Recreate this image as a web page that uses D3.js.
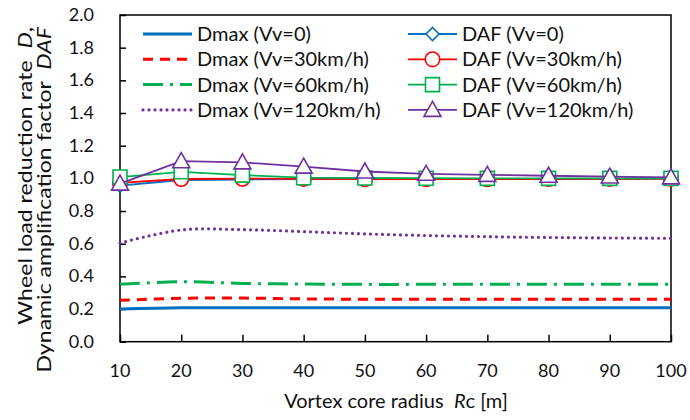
<!DOCTYPE html>
<html>
<head>
<meta charset="utf-8">
<script src="https://cdn.jsdelivr.net/npm/d3@7"></script>
<style>
  html, body { margin: 0; padding: 0; background: #fff; }
  svg text { font-family: Lato, "Open Sans", sans-serif; fill: #111; white-space: pre; }
</style>
</head>
<body>
<svg id="chart" width="690" height="420"></svg>
<script>
// Vortex core radius Rc [m]
const radius = [10, 20, 30, 40, 50, 60, 70, 80, 90, 100];

// Wheel load reduction rate D (maximum) for each vehicle speed
const dmaxV0   = [0.200, 0.208, 0.208, 0.208, 0.208, 0.208, 0.208, 0.208, 0.208, 0.208];
const dmaxV30  = [0.253, 0.266, 0.267, 0.262, 0.260, 0.260, 0.260, 0.260, 0.260, 0.260];
const dmaxV60  = [0.351, 0.367, 0.357, 0.353, 0.351, 0.351, 0.351, 0.351, 0.351, 0.351];
const dmaxV120 = [0.604, 0.684, 0.686, 0.674, 0.660, 0.650, 0.643, 0.638, 0.635, 0.633];

// Dynamic amplification factor DAF for each vehicle speed
const dafV0    = [0.955, 0.990, 0.993, 0.995, 0.995, 0.995, 0.995, 0.996, 0.997, 0.998];
const dafV30   = [0.972, 0.996, 0.998, 0.997, 0.995, 0.995, 0.995, 0.996, 0.997, 0.998];
const dafV60   = [1.008, 1.040, 1.020, 1.004, 1.002, 1.001, 1.000, 1.000, 1.000, 1.000];
const dafV120  = [0.968, 1.105, 1.098, 1.072, 1.042, 1.028, 1.021, 1.016, 1.011, 1.006];

// Axis ticks
const xTicks = [10, 20, 30, 40, 50, 60, 70, 80, 90, 100];
const yTicks = [0.0, 0.2, 0.4, 0.6, 0.8, 1.0, 1.2, 1.4, 1.6, 1.8, 2.0];

const labels = {
  dmaxV0: "Dmax (Vv=0)", dmaxV30: "Dmax (Vv=30km/h)", dmaxV60: "Dmax (Vv=60km/h)", dmaxV120: "Dmax (Vv=120km/h)",
  dafV0: "DAF (Vv=0)", dafV30: "DAF (Vv=30km/h)", dafV60: "DAF (Vv=60km/h)", dafV120: "DAF (Vv=120km/h)"
};

const BLUE = "#0070C0", RED = "#FF0000", GREEN = "#00B050", PURPLE = "#7030A0";

// Series drawing styles
const series = [
  { key: "dmaxV0",   values: dmaxV0,   color: BLUE,   width: 3,   dash: null,        cap: "butt",  marker: null, smooth: true },
  { key: "dmaxV30",  values: dmaxV30,  color: RED,    width: 3,   dash: "10,7",      cap: "butt",  marker: null, smooth: true },
  { key: "dmaxV60",  values: dmaxV60,  color: GREEN,  width: 3,   dash: "20,7,3,7",  cap: "butt",  marker: null, smooth: true },
  { key: "dmaxV120", values: dmaxV120, color: PURPLE, width: 3.2, dash: "0,6",       cap: "round", marker: null, smooth: true },
  { key: "dafV0",    values: dafV0,    color: BLUE,   width: 1.8, dash: null, cap: "butt", marker: "diamond" },
  { key: "dafV30",   values: dafV30,   color: RED,    width: 1.8, dash: null, cap: "butt", marker: "circle" },
  { key: "dafV60",   values: dafV60,   color: GREEN,  width: 1.8, dash: null, cap: "butt", marker: "square" },
  { key: "dafV120",  values: dafV120,  color: PURPLE, width: 1.8, dash: null, cap: "butt", marker: "triangle" }
];

const svg = d3.select("#chart");
const plot = { left: 120, right: 671, top: 15, bottom: 341.7 };

const x = d3.scaleLinear().domain([10, 100]).range([plot.left, plot.right]);
const y = d3.scaleLinear().domain([0, 2]).range([plot.bottom, plot.top]);

// Marker shapes, centred on the origin
function markerPath(type) {
  switch (type) {
    case "diamond":  return "M0,-6.5L6.5,0L0,6.5L-6.5,0Z";
    case "square":   return "M-7,-7H7V7H-7Z";
    case "triangle": return "M0,-8.5L8.5,6.5H-8.5Z";
    case "circle":   return d3.symbol(d3.symbolCircle, Math.PI * 7.3 * 7.3)();
  }
}

// Plot frame
svg.append("rect")
  .attr("x", plot.left).attr("y", plot.top)
  .attr("width", plot.right - plot.left).attr("height", plot.bottom - plot.top)
  .attr("fill", "none").attr("stroke", "#000").attr("stroke-width", 1.5);

// Axes with inward ticks
const xAxis = d3.axisTop(x).tickValues(xTicks).tickSize(7).tickFormat("");
svg.append("g").attr("transform", `translate(0,${plot.bottom})`).call(xAxis)
  .call(g => { g.select(".domain").remove(); g.selectAll("line").attr("stroke", "#000").attr("stroke-width", 1.5); });

const yAxis = d3.axisRight(y).tickValues(yTicks).tickSize(6).tickFormat("");
svg.append("g").attr("transform", `translate(${plot.left},0)`).call(yAxis)
  .call(g => { g.select(".domain").remove(); g.selectAll("line").attr("stroke", "#000").attr("stroke-width", 1.5); });

// Tick labels
svg.append("g").selectAll("text").data(xTicks).join("text")
  .attr("x", d => x(d)).attr("y", 377)
  .attr("text-anchor", "middle").attr("font-size", 18)
  .text(d => d);

svg.append("g").selectAll("text").data(yTicks).join("text")
  .attr("x", 94).attr("y", d => y(d) + 6)
  .attr("text-anchor", "end").attr("font-size", 18)
  .text(d => d3.format(".1f")(d));

// Axis titles
const xt = svg.append("text").attr("x", 396).attr("y", 408)
  .attr("text-anchor", "middle").attr("font-size", 20);
xt.append("tspan").text("Vortex core radius  ");
xt.append("tspan").attr("font-style", "italic").text("R");
xt.append("tspan").text("c [m]");

// Two-line y title, stretched slightly along its baseline
const yt1 = svg.append("text").attr("transform", "translate(32,27) rotate(-90) scale(1.155,1)")
  .attr("text-anchor", "end").attr("font-size", 20);
yt1.append("tspan").text("Wheel load reduction rate  ");
yt1.append("tspan").attr("font-style", "italic").text("D");
yt1.append("tspan").text(",");

const yt2 = svg.append("text").attr("transform", "translate(51,27) rotate(-90) scale(1.155,1)")
  .attr("text-anchor", "end").attr("font-size", 20);
yt2.append("tspan").text("Dynamic amplification factor  ");
yt2.append("tspan").attr("font-style", "italic").text("DAF");

// Series lines and markers
const plotLayer = svg.append("g");
series.forEach(s => {
  const pts = radius.map((r, i) => [r, s.values[i]]);
  const line = d3.line().x(d => x(d[0])).y(d => y(d[1]))
    .curve(s.smooth ? d3.curveCatmullRom.alpha(0.5) : d3.curveLinear);
  plotLayer.append("path")
    .attr("d", line(pts))
    .attr("fill", "none")
    .attr("stroke", s.color)
    .attr("stroke-width", s.width)
    .attr("stroke-dasharray", s.dash)
    .attr("stroke-linecap", s.cap);
  if (s.marker) {
    plotLayer.append("g").selectAll("path").data(pts).join("path")
      .attr("transform", d => `translate(${x(d[0])},${y(d[1])})`)
      .attr("d", markerPath(s.marker))
      .attr("fill", "#fff")
      .attr("stroke", s.color)
      .attr("stroke-width", 1.6);
  }
});

// Legend: two columns of four entries
const legend = svg.append("g");
const rowY = i => 34 + i * 25.3;
series.forEach((s, k) => {
  const col = k < 4 ? 0 : 1;
  const row = k % 4;
  const x0 = col === 0 ? 143 : 408;
  const x1 = x0 + 49;
  const cy = rowY(row);
  legend.append("line")
    .attr("x1", x0).attr("x2", x1).attr("y1", cy).attr("y2", cy)
    .attr("stroke", s.color)
    .attr("stroke-width", s.width)
    .attr("stroke-dasharray", s.dash)
    .attr("stroke-linecap", s.cap);
  if (s.marker) {
    legend.append("path")
      .attr("transform", `translate(${(x0 + x1) / 2},${cy})`)
      .attr("d", markerPath(s.marker))
      .attr("fill", "#fff").attr("stroke", s.color).attr("stroke-width", 1.6);
  }
  legend.append("text")
    .attr("x", x1 + 5).attr("y", cy + 7)
    .attr("font-size", 20)
    .text(labels[s.key]);
});
</script>
</body>
</html>
